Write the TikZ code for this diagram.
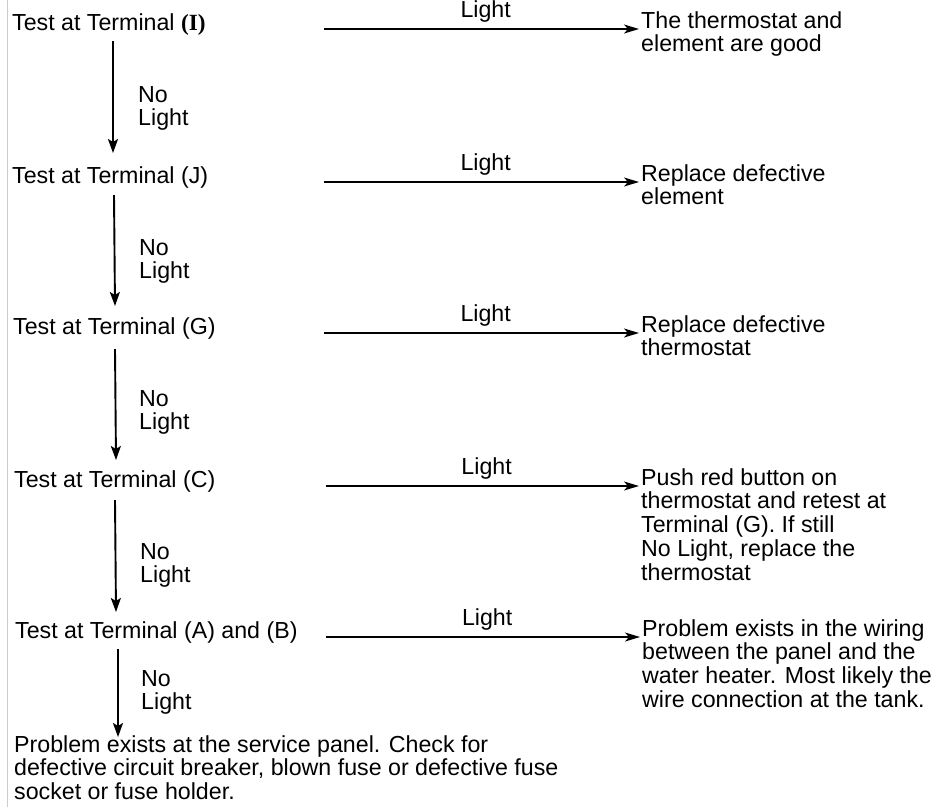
\documentclass[tikz,border=0pt]{standalone}
\usepackage{fontspec}
\setmainfont{Liberation Sans}
\newfontfamily\serifbold{Liberation Serif}
\usetikzlibrary{arrows.meta}
\newcommand\mlines[1]{\begin{tabular}[t]{@{}l@{}}#1\end{tabular}}
\begin{document}
\begin{tikzpicture}[x=1pt,y=-1pt,
  txt/.style={inner sep=0pt, anchor=base west, font=\fontsize{23.2pt}{23.5pt}\selectfont},
  hline/.style={line width=1.2pt, shorten >=2pt, -{Stealth[length=15pt,width=9pt,inset=4pt]}},
  vline/.style={line width=1.9pt, -{Stealth[length=14pt,width=10pt,inset=3pt]}},
  light/.style={pos=0.51, anchor=base, yshift=12pt, inner sep=0pt, font=\fontsize{23.2pt}{23.5pt}\selectfont}
]
\useasboundingbox (0,0) rectangle (938,807);
\draw[black!20, line width=0.8pt] (7,0) -- (7,807);

% left column
\node[txt] (L1) at (12,30)  {Test at Terminal {\serifbold\bfseries (I)}};
\node[txt] (L2) at (12,183) {Test at Terminal (J)};
\node[txt] (L3) at (13,334) {Test at Terminal (G)};
\node[txt] (L4) at (14,487) {Test at Terminal (C)};
\node[txt] (L5) at (15,638) {Test at Terminal (A) and (B)};
\node[txt] (P)  at (14,752) {\mlines{Problem exists at the service panel. Check for\\defective circuit breaker, blown fuse or defective fuse\\socket or fuse holder.}};

% right column
\node[txt] (R1) at (641,28)  {\mlines{The thermostat and\\element are good}};
\node[txt] (R2) at (641,181) {\mlines{Replace defective\\element}};
\node[txt] (R3) at (641,332) {\mlines{Replace defective\\thermostat}};
\node[txt] (R4) at (641,485) {\mlines{Push red button on\\thermostat and retest at\\Terminal (G). If still\\No Light, replace the\\thermostat}};
\node[txt] (R5) at (642,636) {\mlines{Problem exists in the wiring\\between the panel and the\\water heater. Most likely the\\wire connection at the tank.}};

% horizontal arrows
\coordinate (h1) at (324,29);
\coordinate (h2) at (324,182);
\coordinate (h3) at (324,333);
\coordinate (h4) at (326,486);
\coordinate (h5) at (326,637);
\draw[hline] (h1) -- (h1 -| R1.west) node[light]{Light};
\draw[hline] (h2) -- (h2 -| R2.west) node[light]{Light};
\draw[hline] (h3) -- (h3 -| R3.west) node[light]{Light};
\draw[hline] (h4) -- (h4 -| R4.west) node[light]{Light};
\draw[hline] (h5) -- (h5 -| R5.west) node[light]{Light};

% vertical arrows
\draw[vline] ([xshift=101pt,yshift=-11pt]L1.base west) -- ([xshift=101pt,yshift=30pt]L2.base west);
\draw[vline] ([xshift=102pt,yshift=-12pt]L2.base west) -- ([xshift=102pt,yshift=28pt]L3.base west);
\draw[vline] ([xshift=102pt,yshift=-15pt]L3.base west) -- ([xshift=102pt,yshift=27pt]L4.base west);
\draw[vline] ([xshift=101pt,yshift=-13pt]L4.base west) -- ([xshift=101pt,yshift=26pt]L5.base west);
\draw[vline] ([xshift=103pt,yshift=-11pt]L5.base west) -- ([xshift=104pt,yshift=15pt]P.base west);

% no-light labels
\node[txt] (N1) at (138,102) {\mlines{No\\Light}};
\node[txt] (N2) at (139,255) {\mlines{No\\Light}};
\node[txt] (N3) at (139,406) {\mlines{No\\Light}};
\node[txt] (N4) at (140,559) {\mlines{No\\Light}};
\node[txt] (N5) at (141,686) {\mlines{No\\Light}};
\end{tikzpicture}
\end{document}
